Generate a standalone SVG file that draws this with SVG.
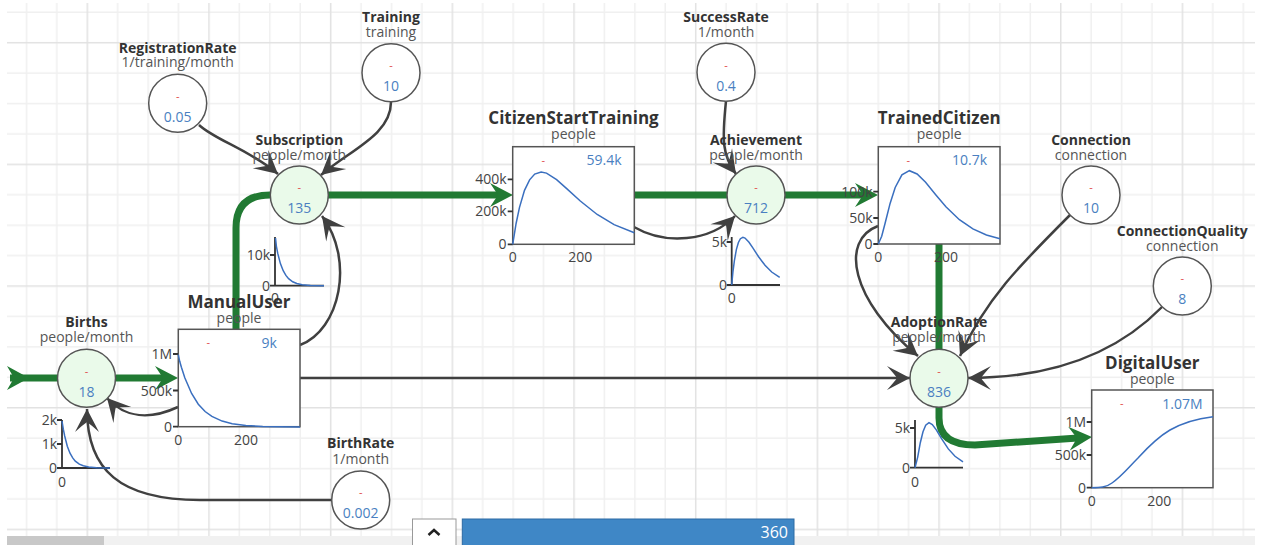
<svg xmlns="http://www.w3.org/2000/svg" width="1263" height="545" viewBox="0 0 1263 545">
<style>
text{font-family:"Open Sans","Liberation Sans",sans-serif}
.t{font-weight:700;font-size:14px;fill:#333;text-anchor:middle}
.ts{font-weight:700;font-size:17px;fill:#333;text-anchor:middle}
.u{font-size:14px;fill:#555;text-anchor:middle}
.v{font-size:14px;fill:#4a7fc1;text-anchor:middle}
.d{font-size:11px;fill:#e04848;text-anchor:middle}
.tk{font-size:14px;fill:#444;text-anchor:end}
.tx{font-size:14px;fill:#444;text-anchor:middle}
.cst{fill:#fff;stroke:#555;stroke-width:1.5}
.cfl{fill:#eafaea;stroke:#555;stroke-width:1.5}
.box{fill:#fff;stroke:#555;stroke-width:1.5}
.ax{fill:none;stroke:#333;stroke-width:1.8}
.crv{fill:none;stroke:#3a6fbf;stroke-width:1.5}
.lk{fill:none;stroke:#404040;stroke-width:2.5;marker-end:url(#ag)}
.fl{fill:none;stroke:#217a33;stroke-width:7}
.fa{marker-end:url(#ga)}
</style>
<defs>
<pattern id="grid" patternUnits="userSpaceOnUse" x="86.55" y="41.95" width="121.68" height="121.68">
<path d="M31.17,0V121.68M61.59,0V121.68M92.01,0V121.68M0,31.17H121.68M0,61.59H121.68M0,92.01H121.68" stroke="#f0f0f0" stroke-width="1.5"/>
<path d="M0.75,0V121.68M0,0.75H121.68" stroke="#e2e2e2" stroke-width="1.5"/>
</pattern>
<marker id="ag" markerUnits="userSpaceOnUse" markerWidth="40" markerHeight="40" viewBox="-30 -20 40 40" refX="0" refY="0" orient="auto" overflow="visible">
<path d="M0,0 L-23,-12 Q-15,-3 -13,0 Q-15,3 -23,12 Z" fill="#404040"/>
</marker>
<marker id="ga" markerUnits="userSpaceOnUse" markerWidth="40" markerHeight="40" viewBox="-20 -20 40 40" refX="0" refY="0" orient="auto" overflow="visible">
<path d="M14,0 L-9,-12 Q-3,-3 -1,0 Q-3,3 -9,12 Z" fill="#217a33"/>
</marker>
</defs>
<rect width="1263" height="545" fill="#fff"/>
<rect x="7" y="3" width="1248" height="533" fill="url(#grid)"/>

<g id="connectors">
<path class="lk" d="M199,125 C215,140 250,150 278,174"/>
<path class="lk" d="M391,102 C391,135 350,150 321,175"/>
<path class="lk" d="M300,345 C340,330 355,260 322,216"/>
<path class="lk" d="M178,407 C150,420 125,418 107,398"/>
<path class="lk" d="M332,500 H200 C120,500 87,470 87,409"/>
<path class="lk" d="M300,378 H910"/>
<path class="lk" d="M634,227 C665,245 710,242 735,216"/>
<path class="lk" d="M726,101 C722,140 722,155 736,174"/>
<path class="lk" d="M878,226 C840,240 850,300 918,356"/>
<path class="lk" d="M1070,215 C1020,265 985,300 960,356"/>
<path class="lk" d="M1162,307 C1120,350 1060,378 968,378"/>
<polygon points="29,378 7,366 14,378 7,390" fill="#217a33"/>
<path class="fl" d="M10,378 H58"/>
<path class="fl fa" d="M116,378 H164"/>
<path class="fl" d="M236,329 V228 Q236,195 270,195"/>
<path class="fl fa" d="M328,195 H499"/>
<path class="fl" d="M634,195 H727"/>
<path class="fl fa" d="M785,195 H864"/>
<path class="fl" d="M939,244 V349"/>
<path class="fl fa" d="M939,407 V418 Q939,445 975,445 L1078,438"/>
</g>

<g id="RegistrationRate">
<text class="t" x="177.7" y="53">RegistrationRate</text>
<text class="u" x="177.7" y="67">1/training/month</text>
<circle class="cst" cx="177.7" cy="103.3" r="29"/>
<text class="d" x="177.7" y="99.5">-</text>
<text class="v" x="177.7" y="121.5">0.05</text>
</g>
<g id="Training">
<text class="t" x="391" y="22">Training</text>
<text class="u" x="391" y="37">training</text>
<circle class="cst" cx="391" cy="72.7" r="29"/>
<text class="d" x="391" y="69">-</text>
<text class="v" x="391" y="91">10</text>
</g>
<g id="SuccessRate">
<text class="t" x="726" y="22">SuccessRate</text>
<text class="u" x="726" y="37">1/month</text>
<circle class="cst" cx="726" cy="72.3" r="29"/>
<text class="d" x="726" y="68.5">-</text>
<text class="v" x="726" y="90.5">0.4</text>
</g>
<g id="Connection">
<text class="t" x="1091" y="145">Connection</text>
<text class="u" x="1091" y="160">connection</text>
<circle class="cst" cx="1091" cy="195" r="29"/>
<text class="d" x="1091" y="191">-</text>
<text class="v" x="1091" y="213">10</text>
</g>
<g id="ConnectionQuality">
<text class="t" x="1182.3" y="236">ConnectionQuality</text>
<text class="u" x="1182.3" y="251">connection</text>
<circle class="cst" cx="1182.3" cy="286" r="29"/>
<text class="d" x="1182.3" y="282">-</text>
<text class="v" x="1182.3" y="304">8</text>
</g>
<g id="BirthRate">
<text class="t" x="360.7" y="448">BirthRate</text>
<text class="u" x="360.7" y="464">1/month</text>
<circle class="cst" cx="360.7" cy="500" r="29"/>
<text class="d" x="360.7" y="496">-</text>
<text class="v" x="360.7" y="518">0.002</text>
</g>

<g id="Births">
<text class="t" x="86.5" y="327">Births</text>
<text class="u" x="86.5" y="342">people/month</text>
<circle class="cfl" cx="86.5" cy="378.3" r="29"/>
<text class="d" x="86.5" y="374.5">-</text>
<text class="v" x="86.5" y="396.5">18</text>
<path class="ax" d="M62,420 V468 H110 M57,420 H62 M57,444 H62 M57,468 H62"/>
<text class="tk" x="57" y="425">2k</text>
<text class="tk" x="57" y="449">1k</text>
<text class="tk" x="57" y="473">0</text>
<text class="tx" x="62" y="487">0</text>
<polyline class="crv" points="62,421 63.3,429.2 64.7,436 67.3,446.2 70,453.2 72.7,457.9 75.3,461.1 79.3,464.1 83.3,465.8 88.7,467 96.7,467.7 110,468"/>
</g>

<g id="Subscription">
<text class="t" x="299.3" y="145">Subscription</text>
<text class="u" x="299.3" y="160">people/month</text>
<circle class="cfl" cx="299.3" cy="195" r="29"/>
<text class="d" x="299.3" y="191">-</text>
<text class="v" x="299.3" y="213">135</text>
<path class="ax" d="M275,237 V285.7 H324 M270,255 H275 M270,285.7 H275"/>
<text class="tk" x="270" y="260">10k</text>
<text class="tk" x="270" y="290.7">0</text>
<text class="tx" x="275" y="303">0</text>
<polyline class="crv" points="275.5,238 276.4,246.3 277.7,253.2 280.4,263.6 283.2,270.7 285.9,275.4 288.6,278.7 292.7,281.8 296.8,283.5 302.2,284.7 310.4,285.4 324,285.7"/>
</g>

<g id="Achievement">
<text class="t" x="756" y="145">Achievement</text>
<text class="u" x="756" y="160">people/month</text>
<circle class="cfl" cx="756" cy="195" r="29"/>
<text class="d" x="756" y="191">-</text>
<text class="v" x="756" y="213">712</text>
<path class="ax" d="M731.7,237 V285 H780 M726.7,242 H731.7 M726.7,285 H731.7"/>
<text class="tk" x="727" y="247">5k</text>
<text class="tk" x="727" y="290">0</text>
<text class="tx" x="731.7" y="303">0</text>
<polyline class="crv" points="731.7,285 733,271.3 734.4,260.7 736.4,249.4 738.4,242.5 740.4,238.7 742.9,237.3 745,238.1 749,242.3 753,248.2 758.4,256.5 765,265.3 771.7,272 779.7,277.4"/>
</g>

<g id="AdoptionRate">
<text class="t" x="939" y="327">AdoptionRate</text>
<text class="u" x="939" y="342">people/month</text>
<circle class="cfl" cx="939" cy="378.3" r="29"/>
<text class="d" x="939" y="374.5">-</text>
<text class="v" x="939" y="396.5">836</text>
<path class="ax" d="M915,420 V467.7 H963 M910,428 H915 M910,467.7 H915"/>
<text class="tk" x="910" y="433">5k</text>
<text class="tk" x="910" y="472.7">0</text>
<text class="tx" x="915" y="487">0</text>
<polyline class="crv" points="915,467.7 917.7,457.1 920.3,442.7 923,431.7 925.7,425.2 929,422.7 932.3,424.5 936.3,429.9 941.7,438.8 948.3,448.9 955,456.3 963,461.8"/>
</g>

<g id="ManualUser">
<text class="ts" x="239" y="308">ManualUser</text>
<text class="u" x="239" y="323">people</text>
<rect class="box" x="178.3" y="329.3" width="121.7" height="97.4"/>
<text class="d" x="208.3" y="346">-</text>
<text class="v" x="269.3" y="347.5">9k</text>
<path class="ax" d="M173,354 H178 M173,390.5 H178 M173,426.7 H178"/>
<text class="tk" x="172" y="359">1M</text>
<text class="tk" x="172" y="395.5">500k</text>
<text class="tk" x="172" y="431.7">0</text>
<text class="tx" x="178.3" y="445">0</text>
<text class="tx" x="245.9" y="445">200</text>
<polyline class="crv" points="178.3,354.7 179.7,361.3 181.4,367.3 184.8,377.8 191.6,393.5 198.3,404.2 205.1,411.5 211.9,416.4 222.1,421.1 232.2,423.7 245.8,425.5 262.7,426.4 279.7,426.8 300,426.9"/>
</g>

<g id="CitizenStartTraining">
<text class="ts" x="573.5" y="124">CitizenStartTraining</text>
<text class="u" x="573.5" y="139">people</text>
<rect class="box" x="512.7" y="146.7" width="121.6" height="97.6"/>
<text class="d" x="543.3" y="163.5">-</text>
<text class="v" x="604" y="165">59.4k</text>
<path class="ax" d="M507.7,179.3 H512.7 M507.7,211.3 H512.7 M507.7,244.3 H512.7"/>
<text class="tk" x="506.5" y="184.3">400k</text>
<text class="tk" x="506.5" y="216.3">200k</text>
<text class="tk" x="506.5" y="249.3">0</text>
<text class="tx" x="512.7" y="262">0</text>
<text class="tx" x="580.3" y="262">200</text>
<polyline class="crv" points="512.7,244.3 516.1,223.5 519.5,207.4 524.5,190.3 529.6,179.8 534.7,174.1 541.1,172 546.5,173.1 556.6,179.6 566.7,188.6 580.3,201 597.2,214.5 614.1,224.6 634.3,232.7"/>
</g>

<g id="TrainedCitizen">
<text class="ts" x="939.2" y="124">TrainedCitizen</text>
<text class="u" x="939.2" y="139">people</text>
<rect class="box" x="878.3" y="146.7" width="121.7" height="97.3"/>
<text class="d" x="908.3" y="163.5">-</text>
<text class="v" x="969.5" y="165">10.7k</text>
<path class="ax" d="M873.3,191.7 H878.3 M873.3,218 H878.3 M873.3,244 H878.3"/>
<text class="tk" x="872.5" y="196.7">100k</text>
<text class="tk" x="872.5" y="223">50k</text>
<text class="tk" x="872.5" y="249">0</text>
<text class="tx" x="878.3" y="262">0</text>
<text class="tx" x="945.9" y="262">200</text>
<polyline class="crv" points="878.3,244 881.7,236.3 885.1,223.3 890.1,203.4 895.2,187.5 901.9,174.8 909.4,170.7 917.1,174 925.6,182.3 935.7,194.7 945.9,206.7 959.4,219.7 972.9,228.9 986.4,235 1000,238.7"/>
</g>

<g id="DigitalUser">
<text class="ts" x="1152.3" y="368.5">DigitalUser</text>
<text class="u" x="1152.3" y="383.5">people</text>
<rect class="box" x="1091.7" y="390" width="121.3" height="97.7"/>
<text class="d" x="1121.7" y="407">-</text>
<text class="v" x="1182.5" y="408.5">1.07M</text>
<path class="ax" d="M1086.7,422 H1091.7 M1086.7,455 H1091.7 M1086.7,487.7 H1091.7"/>
<text class="tk" x="1086" y="427">1M</text>
<text class="tk" x="1086" y="460">500k</text>
<text class="tk" x="1086" y="492.7">0</text>
<text class="tx" x="1091.7" y="506">0</text>
<text class="tx" x="1159.3" y="506">200</text>
<path class="crv" d="M1091.7,487.7 C1100,487.7 1106,487.5 1112,483 C1122,476 1128,468 1138,458 C1148,447 1158,437 1170,430 C1182,423 1198,418.5 1213,416.7"/>
</g>

<g id="controls">
<rect x="7" y="536" width="1248" height="9" fill="#f1f1f1"/>
<rect x="7" y="536" width="97" height="9" fill="#c8c8c8"/>
<rect x="412.5" y="519" width="43.5" height="30" fill="#fff" stroke="#999" stroke-width="1"/>
<polyline points="428.5,535 434,530 439.5,535" fill="none" stroke="#222" stroke-width="2.5"/>
<rect x="462.3" y="519" width="331.7" height="30" fill="#3f87c6" stroke="#2c6aa3" stroke-width="1"/>
<text x="788" y="538" font-size="16" fill="#fff" text-anchor="end">360</text>
</g>
</svg>
